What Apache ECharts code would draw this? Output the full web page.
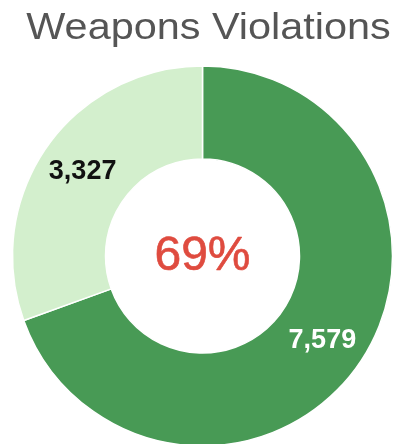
<!DOCTYPE html>
<html>
<head>
<meta charset="utf-8">
<script src="https://cdn.jsdelivr.net/npm/echarts@6/dist/echarts.min.js"></script>
<style>
html,body{margin:0;padding:0;background:#fff;}
#chart{width:403px;height:444px;}
</style>
</head>
<body>
<div id="chart"></div>
<script>
const titleText = "Weapons Violations";
const categories = ["Violations", "Other"];
const values = [7579, 3327];
const colors = ["#489a55", "#d3efcd"];
const labelColors = ["#ffffff", "#111111"];

const total = values.reduce((a, b) => a + b, 0);
const pct = Math.round(values[0] / total * 100) + "%";

const chart = echarts.init(document.getElementById("chart"), null, {renderer: "canvas"});
chart.setOption({
  animation: false,
  backgroundColor: "#ffffff",
  graphic: [
    {
      type: "text",
      x: 208.5,
      y: 29.5,
      scaleX: 1.15,
      style: {
        text: titleText,
        font: "36px 'Liberation Sans', Arial, sans-serif",
        fill: "#555555",
        textAlign: "center",
        textVerticalAlign: "middle"
      }
    },
    {
      type: "text",
      x: 202.5,
      y: 256.5,
      z: 100,
      style: {
        text: pct,
        font: "48px 'Liberation Sans', Arial, sans-serif",
        fill: "#df4b3f",
        stroke: "#df4b3f",
        lineWidth: 0.6,
        textAlign: "center",
        textVerticalAlign: "middle"
      }
    }
  ],
  series: [{
    type: "pie",
    center: [202.5, 256],
    radius: [97, 190],
    startAngle: 90,
    clockwise: true,
    avoidLabelOverlap: false,
    itemStyle: {borderColor: "#ffffff", borderWidth: 1.5},
    label: {
      show: true,
      position: "inside",
      fontFamily: "'Liberation Sans', Arial, sans-serif",
      fontWeight: "bold",
      fontSize: 27,
      formatter: p => p.value.toLocaleString("en-US")
    },
    labelLine: {show: false},
    emphasis: {disabled: true},
    data: categories.map((c, i) => ({
      name: c,
      value: values[i],
      itemStyle: {color: colors[i]},
      label: {color: labelColors[i]}
    }))
  }]
});
</script>
</body>
</html>
